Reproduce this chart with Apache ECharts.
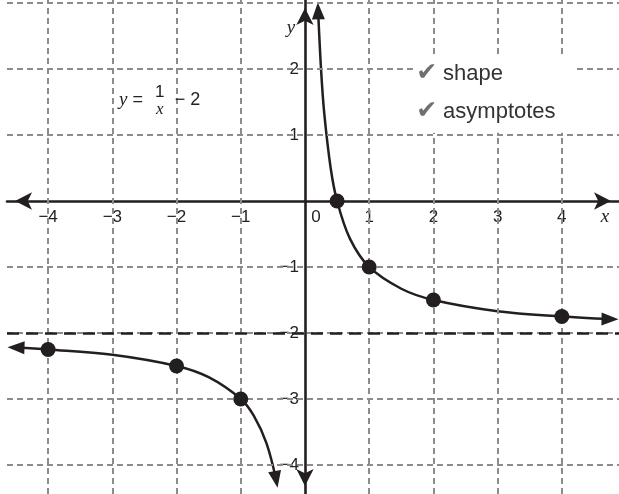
<!DOCTYPE html>
<html>
<head>
<meta charset="utf-8">
<script src="https://cdn.jsdelivr.net/npm/echarts@6/dist/echarts.min.js"></script>
<style>
  html, body { margin: 0; padding: 0; background: #fff; }
  #chart { width: 619px; height: 494px; }
</style>
</head>
<body>
<div id="chart"></div>
<script>
// tick labels and grid positions
const xTicks = [-4, -3, -2, -1, 0, 1, 2, 3, 4]
const yTicks = [-4, -3, -2, -1, 1, 2]
const gridX = [-4, -3, -2, -1, 1, 2, 3, 4]
const gridY = [-4, -3, -2, -1, 1, 2, 3]
const asymptoteY = -2

// y = 1/x - 2
const rightCurve = [
  [0.205, 2.88], [0.25, 2.0], [0.3, 1.33], [0.4, 0.5], [0.5, 0], [0.7, -0.57],
  [1, -1], [1.5, -1.33], [2, -1.5], [3, -1.67], [4, -1.75], [4.75, -1.79]
]
const leftCurve = [
  [-4.5, -2.22], [-4, -2.25], [-3, -2.33], [-2, -2.5], [-1.5, -2.67],
  [-1, -3], [-0.8, -3.25], [-0.6, -3.67], [-0.45, -4.22]
]
const rightPoints = [[0.5, 0], [1, -1], [2, -1.5], [4, -1.75]]
const leftPoints = [[-4, -2.25], [-2, -2.5], [-1, -3]]

const ink = '#231f20'
const gridGray = '#8c8c8c'
const labelColor = '#222'
const sans = "'Liberation Sans Narrow', 'Liberation Sans', sans-serif"
const serif = "'Liberation Serif', 'DejaVu Serif', serif"

function minus(v) {
  return v < 0 ? '\u2212' + Math.abs(v) : String(v)
}

// arrow heads on the curve ends
function withArrows(data, startRot, endRot) {
  return data.map((p, i) => {
    if (i === 0) {
      return { value: p, symbol: 'triangle', symbolSize: [13, 17], symbolRotate: startRot }
    }
    if (i === data.length - 1) {
      return { value: p, symbol: 'triangle', symbolSize: [13, 17], symbolRotate: endRot }
    }
    return { value: p, symbol: 'none' }
  })
}

const axisLine = {
  onZero: true,
  symbol: ['arrow', 'arrow'],
  symbolSize: [13, 17],
  symbolOffset: [8, -8],
  lineStyle: { color: ink, width: 2.6 }
}

const chart = echarts.init(document.getElementById('chart'))
chart.setOption({
  animation: false,
  grid: { left: 7, right: 0, top: 0, bottom: 0, containLabel: false, outerBoundsMode: 'none' },
  xAxis: {
    type: 'value',
    min: -4.64,
    max: 4.89,
    z: 3,
    splitLine: { show: false },
    axisTick: { show: false },
    axisLabel: { show: false },
    axisLine: axisLine
  },
  yAxis: {
    type: 'value',
    min: -4.44,
    max: 3.045,
    z: 3,
    splitLine: { show: false },
    axisTick: { show: false },
    axisLabel: { show: false },
    axisLine: axisLine
  },
  series: [
    {
      // dashed grid
      type: 'line',
      data: [],
      z: 1,
      silent: true,
      markLine: {
        silent: true,
        symbol: ['none', 'none'],
        label: { show: false },
        lineStyle: { color: gridGray, width: 2, type: [6, 4] },
        data: gridX.map(v => ({ xAxis: v })).concat(gridY.map(v => ({ yAxis: v })))
      }
    },
    {
      // horizontal asymptote
      type: 'line',
      data: [],
      z: 2,
      silent: true,
      markLine: {
        silent: true,
        symbol: ['none', 'none'],
        label: { show: false },
        lineStyle: { color: ink, width: 2.5, type: [12, 7] },
        data: [{ yAxis: asymptoteY }]
      }
    },
    {
      type: 'line',
      z: 4,
      smooth: 0.35,
      data: withArrows(rightCurve, 2, -91),
      lineStyle: { color: ink, width: 2.5 },
      itemStyle: { color: ink }
    },
    {
      type: 'line',
      z: 4,
      smooth: 0.35,
      data: withArrows(leftCurve, 88, 190),
      lineStyle: { color: ink, width: 2.5 },
      itemStyle: { color: ink }
    },
    {
      type: 'scatter',
      z: 5,
      symbolSize: 15,
      data: rightPoints.concat(leftPoints),
      itemStyle: { color: ink, opacity: 1 }
    },
    {
      // x tick labels
      type: 'scatter',
      z: 2,
      symbolSize: 0,
      silent: true,
      itemStyle: { opacity: 1 },
      data: xTicks.map(v => [v, 0]),
      label: {
        show: true,
        position: 'bottom',
        distance: 8,
        color: labelColor,
        fontSize: 17,
        fontFamily: sans,
        formatter: p => (p.value[0] === 0 ? '{z|0}' : minus(p.value[0])),
        rich: { z: { padding: [0, 0, 0, 22], fontSize: 17, fontFamily: sans, color: labelColor } }
      }
    },
    {
      // y tick labels
      type: 'scatter',
      z: 2,
      symbolSize: 0,
      silent: true,
      itemStyle: { opacity: 1 },
      data: yTicks.map(v => [0, v]),
      label: {
        show: true,
        position: 'left',
        distance: 6,
        color: labelColor,
        fontSize: 17,
        fontFamily: sans,
        formatter: p => minus(p.value[1])
      }
    },
    {
      // text annotations
      type: 'scatter',
      z: 6,
      symbolSize: 0,
      silent: true,
      itemStyle: { opacity: 1 },
      data: [
        { value: [-0.22, 2.62], label: { formatter: 'y', fontFamily: serif, fontStyle: 'italic', fontSize: 19 } },
        { value: [4.67, -0.24], label: { formatter: 'x', fontFamily: serif, fontStyle: 'italic', fontSize: 19 } },
        { value: [-2.71, 1.53], label: { formatter: '{i|y} =', fontSize: 18, rich: { i: { fontFamily: serif, fontStyle: 'italic', fontSize: 19, color: labelColor } } } },
        { value: [-2.26, 1.65], label: { formatter: '1', fontSize: 17 } },
        { value: [-2.26, 1.38], label: { formatter: 'x', fontFamily: serif, fontStyle: 'italic', fontSize: 17 } },
        { value: [-1.83, 1.53], label: { formatter: '\u2212 2', fontSize: 18 } },
        {
          value: [1.7, 1.61],
          label: {
            position: 'right',
            distance: 0,
            align: 'left',
            backgroundColor: '#fff',
            padding: [0, 18, 0, 2],
            formatter: '{c|\u2714}{t|shape}\n{c2|\u2714}{t2|asymptotes}',
            rich: {
              c: { color: '#707070', fontSize: 25, fontFamily: "'DejaVu Sans', sans-serif", lineHeight: 34, padding: [0, 6, 0, 0] },
              t: { color: '#333', fontSize: 22, fontFamily: sans, lineHeight: 34 },
              c2: { color: '#707070', fontSize: 25, fontFamily: "'DejaVu Sans', sans-serif", lineHeight: 42, padding: [0, 6, 0, 0] },
              t2: { color: '#333', fontSize: 22, fontFamily: sans, lineHeight: 42 }
            }
          }
        }
      ],
      label: {
        show: true,
        position: 'inside',
        color: labelColor,
        fontSize: 17,
        fontFamily: sans
      }
    }
  ]
})
</script>
</body>
</html>
